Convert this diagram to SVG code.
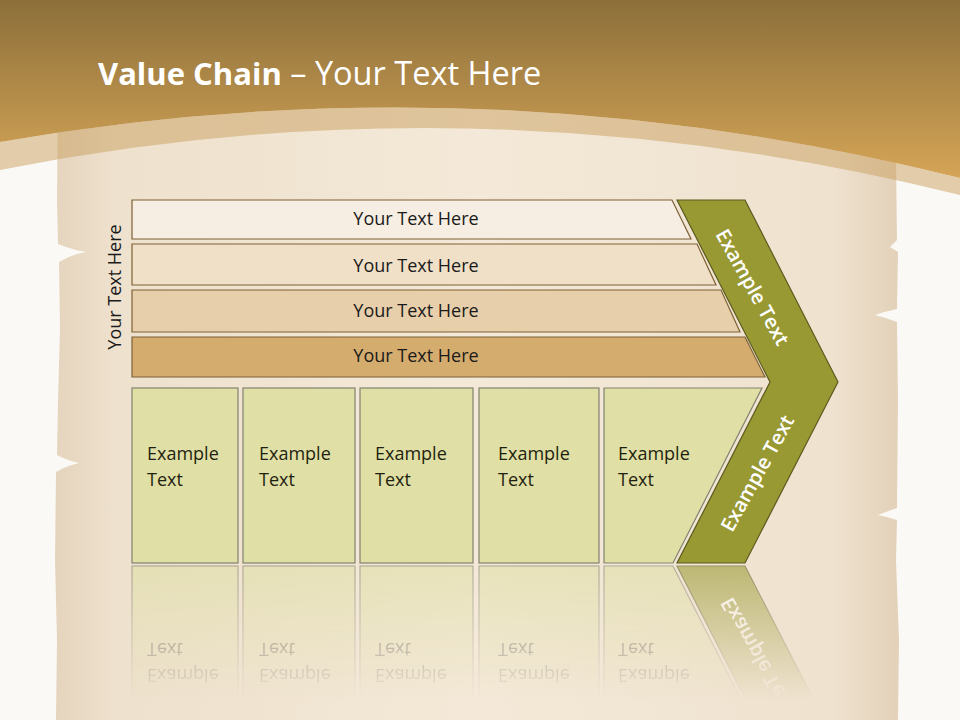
<svg xmlns="http://www.w3.org/2000/svg" xmlns:xlink="http://www.w3.org/1999/xlink" width="960" height="720" viewBox="0 0 960 720">
<defs>
<linearGradient id="hdr" x1="0" y1="0" x2="0" y2="1">
<stop offset="0" stop-color="#8c6f3a"/>
<stop offset="1" stop-color="#d5a557"/>
</linearGradient>
<linearGradient id="parch" x1="0" y1="0" x2="1" y2="0">
<stop offset="0" stop-color="#e5d4bd"/>
<stop offset="0.07" stop-color="#eee1cd"/>
<stop offset="0.5" stop-color="#f4e9d8"/>
<stop offset="0.92" stop-color="#efe2cf"/>
<stop offset="1" stop-color="#e3d1b9"/>
</linearGradient>
<linearGradient id="fadeGrad" gradientUnits="userSpaceOnUse" x1="0" y1="564" x2="0" y2="700">
<stop offset="0" stop-color="#fff" stop-opacity="0.6"/>
<stop offset="1" stop-color="#fff" stop-opacity="0"/>
</linearGradient>
<mask id="fade" maskUnits="userSpaceOnUse" x="0" y="560" width="960" height="160">
<rect x="0" y="564" width="960" height="156" fill="url(#fadeGrad)"/>
</mask>
<style>
.bar{stroke:#7d6034;stroke-width:1.2}
.box{fill:#dfdfa6;stroke:#838370;stroke-width:1.2}
.chev{fill:#999933;stroke:#5b5b1f;stroke-width:1.2}
.t{font-family:"Open Sans","DejaVu Sans",sans-serif;font-size:18px;fill:#1a1a1a}
.bt{font-family:"Open Sans","DejaVu Sans",sans-serif;font-size:18px;fill:#1f1f10}
.ct{font-family:"Open Sans","DejaVu Sans",sans-serif;font-size:20px;font-weight:600;fill:#ffffff}
.title{font-family:"Open Sans","DejaVu Sans",sans-serif;font-size:31.5px;fill:#ffffff}
</style>
</defs>
<rect width="960" height="720" fill="#fbf9f5"/>
<path id="parchment" fill="url(#parch)" d="M58,90 L57,200 L58,244 Q70,249 86,252 Q70,255 59,262 L60,330 L58,400 L57,455 Q66,460 79,463 Q66,466 56,472 L55,560 L57,640 L56,720 L898,720 L899,640 L896,560 L897,520 Q888,517 878,515 Q888,511 897,508 L898,400 L897,322 Q887,318 875,315 Q887,311 897,309 L898,252 Q893,249 890,247 Q893,244 897,240 L896,160 L897,90 Z"/>
<path fill="url(#hdr)" d="M0,0 H960 V178 Q480,58 0,142 Z"/>
<path fill="#c9a060" fill-opacity="0.5" d="M0,142 Q480,58 960,178 L960,195 Q480,75 0,170 Z"/>
<text class="title" x="98" y="85"><tspan font-weight="700" font-size="31px">Value Chain</tspan><tspan font-size="32.5px"> – Your Text Here</tspan></text>
<g id="bar1"><path class="bar" fill="#f6eee2" d="M132,200 H672 L691,239 H132 Z"/><text class="t" x="416" y="225" text-anchor="middle">Your Text Here</text></g>
<g id="bar2"><path class="bar" fill="#f0e0c8" d="M132,244 H697 L716,285 H132 Z"/><text class="t" x="416" y="272" text-anchor="middle">Your Text Here</text></g>
<g id="bar3"><path class="bar" fill="#e8cfab" d="M132,290 H721 L740,332 H132 Z"/><text class="t" x="416" y="317" text-anchor="middle">Your Text Here</text></g>
<g id="bar4"><path class="bar" fill="#d4ac6e" d="M132,337 H745 L765,377 H132 Z"/><text class="t" x="416" y="362" text-anchor="middle">Your Text Here</text></g>
<g id="sideLabel"><text class="t" transform="translate(121,287) rotate(-90)" text-anchor="middle">Your Text Here</text></g>
<g id="row">
<g id="box1"><rect class="box" x="132" y="388" width="106" height="175"/><text class="bt" x="147" y="460">Example</text><text class="bt" x="147" y="486">Text</text></g>
<g id="box2"><rect class="box" x="243" y="388" width="112" height="175"/><text class="bt" x="259" y="460">Example</text><text class="bt" x="259" y="486">Text</text></g>
<g id="box3"><rect class="box" x="360" y="388" width="113" height="175"/><text class="bt" x="375" y="460">Example</text><text class="bt" x="375" y="486">Text</text></g>
<g id="box4"><rect class="box" x="479" y="388" width="120" height="175"/><text class="bt" x="498" y="460">Example</text><text class="bt" x="498" y="486">Text</text></g>
<g id="box5"><path class="box" d="M604,388 H762 L673,563 H604 Z"/><text class="bt" x="618" y="460">Example</text><text class="bt" x="618" y="486">Text</text></g>
<g id="chevron"><path class="chev" d="M677,200 H745 L838,382 L745,563 H677 L770,382 Z"/>
<text class="ct" transform="translate(753,287) rotate(61)" text-anchor="middle" dominant-baseline="central">Example Text</text>
<text class="ct" transform="translate(757,473) rotate(-61)" text-anchor="middle" dominant-baseline="central">Example Text</text></g>
</g>
<g id="reflection" mask="url(#fade)"><use xlink:href="#row" transform="matrix(1 0 0 -1 0 1129)"/></g>
<g id="connectors"/>
</svg>
